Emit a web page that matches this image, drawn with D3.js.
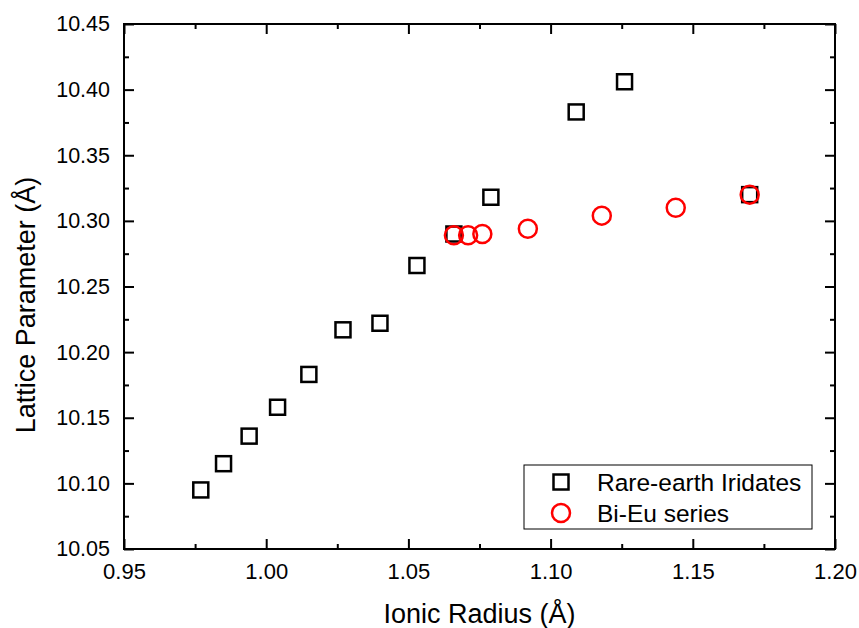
<!DOCTYPE html>
<html>
<head>
<meta charset="utf-8">
<script src="https://cdn.jsdelivr.net/npm/d3@7"></script>
<style>
  body { margin: 0; background: #fff; }
  text { font-family: 'Liberation Sans', Arial, sans-serif; fill: #000; }
</style>
</head>
<body>
<div id="viz"></div>
<script>
// Rare-earth iridates
const rareX = [0.977, 0.985, 0.994, 1.004, 1.015, 1.027, 1.040, 1.053, 1.066, 1.079, 1.109, 1.126, 1.170];
const rareY = [10.095, 10.115, 10.136, 10.158, 10.183, 10.217, 10.222, 10.266, 10.290, 10.318, 10.383, 10.406, 10.320];
// Bi-Eu series
const biEuX = [1.066, 1.071, 1.076, 1.092, 1.118, 1.144, 1.170];
const biEuY = [10.289, 10.289, 10.290, 10.294, 10.304, 10.310, 10.320];

const xTicks = [0.95, 1.00, 1.05, 1.10, 1.15, 1.20];
const yTicks = [10.05, 10.10, 10.15, 10.20, 10.25, 10.30, 10.35, 10.40, 10.45];
const seriesNames = ['Rare-earth Iridates', 'Bi-Eu series'];

const width = 859, height = 628;
const margin = {left: 124, right: 24, top: 24, bottom: 79};
const w = width - margin.left - margin.right;
const h = height - margin.top - margin.bottom;

const svg = d3.select('#viz').append('svg')
  .attr('width', width).attr('height', height)
  .append('g')
  .attr('transform', `translate(${margin.left},${margin.top})`);

const x = d3.scaleLinear().domain([0.95, 1.20]).range([0, w]);
const y = d3.scaleLinear().domain([10.05, 10.45]).range([h, 0]);

const xMinor = d3.range(0, 5).map(i => 0.975 + i * 0.05);
const yMinor = d3.range(0, 8).map(i => 10.075 + i * 0.05);

// axes: ticks point inward, mirrored on top/right
function axisStyle(g) {
  g.select('.domain').remove();
  g.selectAll('line').attr('stroke', '#000').attr('stroke-width', 2);
  g.selectAll('text').style('font-size', '22px');
}

const fmt = d3.format('.2f');
svg.append('g').attr('transform', `translate(0,${h})`)
  .call(d3.axisBottom(x).tickValues(xTicks).tickFormat(fmt).tickSize(-10).tickPadding(14))
  .call(axisStyle);
svg.append('g').attr('transform', `translate(0,${h})`)
  .call(d3.axisBottom(x).tickValues(xMinor).tickFormat('').tickSize(-5))
  .call(axisStyle);
svg.append('g')
  .call(d3.axisTop(x).tickValues(xTicks).tickFormat('').tickSize(-10))
  .call(axisStyle);
svg.append('g')
  .call(d3.axisTop(x).tickValues(xMinor).tickFormat('').tickSize(-5))
  .call(axisStyle);

svg.append('g')
  .call(d3.axisLeft(y).tickValues(yTicks).tickFormat(fmt).tickSize(-10).tickPadding(14))
  .call(axisStyle)
  .selectAll('text').style('font-size', '21.5px');
svg.append('g')
  .call(d3.axisLeft(y).tickValues(yMinor).tickFormat('').tickSize(-5))
  .call(axisStyle);
svg.append('g').attr('transform', `translate(${w},0)`)
  .call(d3.axisRight(y).tickValues(yTicks).tickFormat('').tickSize(-10))
  .call(axisStyle);
svg.append('g').attr('transform', `translate(${w},0)`)
  .call(d3.axisRight(y).tickValues(yMinor).tickFormat('').tickSize(-5))
  .call(axisStyle);

// frame
svg.append('rect')
  .attr('width', w).attr('height', h)
  .attr('fill', 'none').attr('stroke', '#000').attr('stroke-width', 2);

// axis titles
svg.append('text')
  .attr('x', w / 2).attr('y', h + 74)
  .attr('text-anchor', 'middle')
  .style('font-size', '27px')
  .text('Ionic Radius (Å)');
svg.append('text')
  .attr('transform', `translate(${35 - margin.left},${305 - margin.top}) rotate(-90)`)
  .attr('text-anchor', 'middle')
  .style('font-size', '27px')
  .text('Lattice Parameter (Å)');

const sq = 15, rad = 9;

// squares
svg.append('g').selectAll('rect')
  .data(rareX.map((d, i) => [d, rareY[i]]))
  .join('rect')
  .attr('x', d => x(d[0]) - sq / 2)
  .attr('y', d => y(d[1]) - sq / 2)
  .attr('width', sq).attr('height', sq)
  .attr('fill', 'none').attr('stroke', '#000').attr('stroke-width', 2.5);

// circles
svg.append('g').selectAll('circle')
  .data(biEuX.map((d, i) => [d, biEuY[i]]))
  .join('circle')
  .attr('cx', d => x(d[0]))
  .attr('cy', d => y(d[1]))
  .attr('r', rad)
  .attr('fill', 'none').attr('stroke', '#ff0000').attr('stroke-width', 2.5);

// legend
const lg = svg.append('g').attr('transform', `translate(${524 - margin.left},${465 - margin.top})`);
lg.append('rect')
  .attr('width', 288).attr('height', 64)
  .attr('fill', '#fff').attr('stroke', '#000').attr('stroke-width', 1);
lg.append('rect')
  .attr('x', 37 - sq / 2).attr('y', 17 - sq / 2)
  .attr('width', sq).attr('height', sq)
  .attr('fill', 'none').attr('stroke', '#000').attr('stroke-width', 2.5);
lg.append('circle')
  .attr('cx', 37).attr('cy', 48).attr('r', rad)
  .attr('fill', 'none').attr('stroke', '#ff0000').attr('stroke-width', 2.5);
lg.selectAll('text.lbl')
  .data(seriesNames)
  .join('text')
  .attr('class', 'lbl')
  .attr('x', 73)
  .attr('y', (d, i) => 26 + i * 31)
  .style('font-size', '24.5px')
  .text(d => d);
</script>
</body>
</html>
